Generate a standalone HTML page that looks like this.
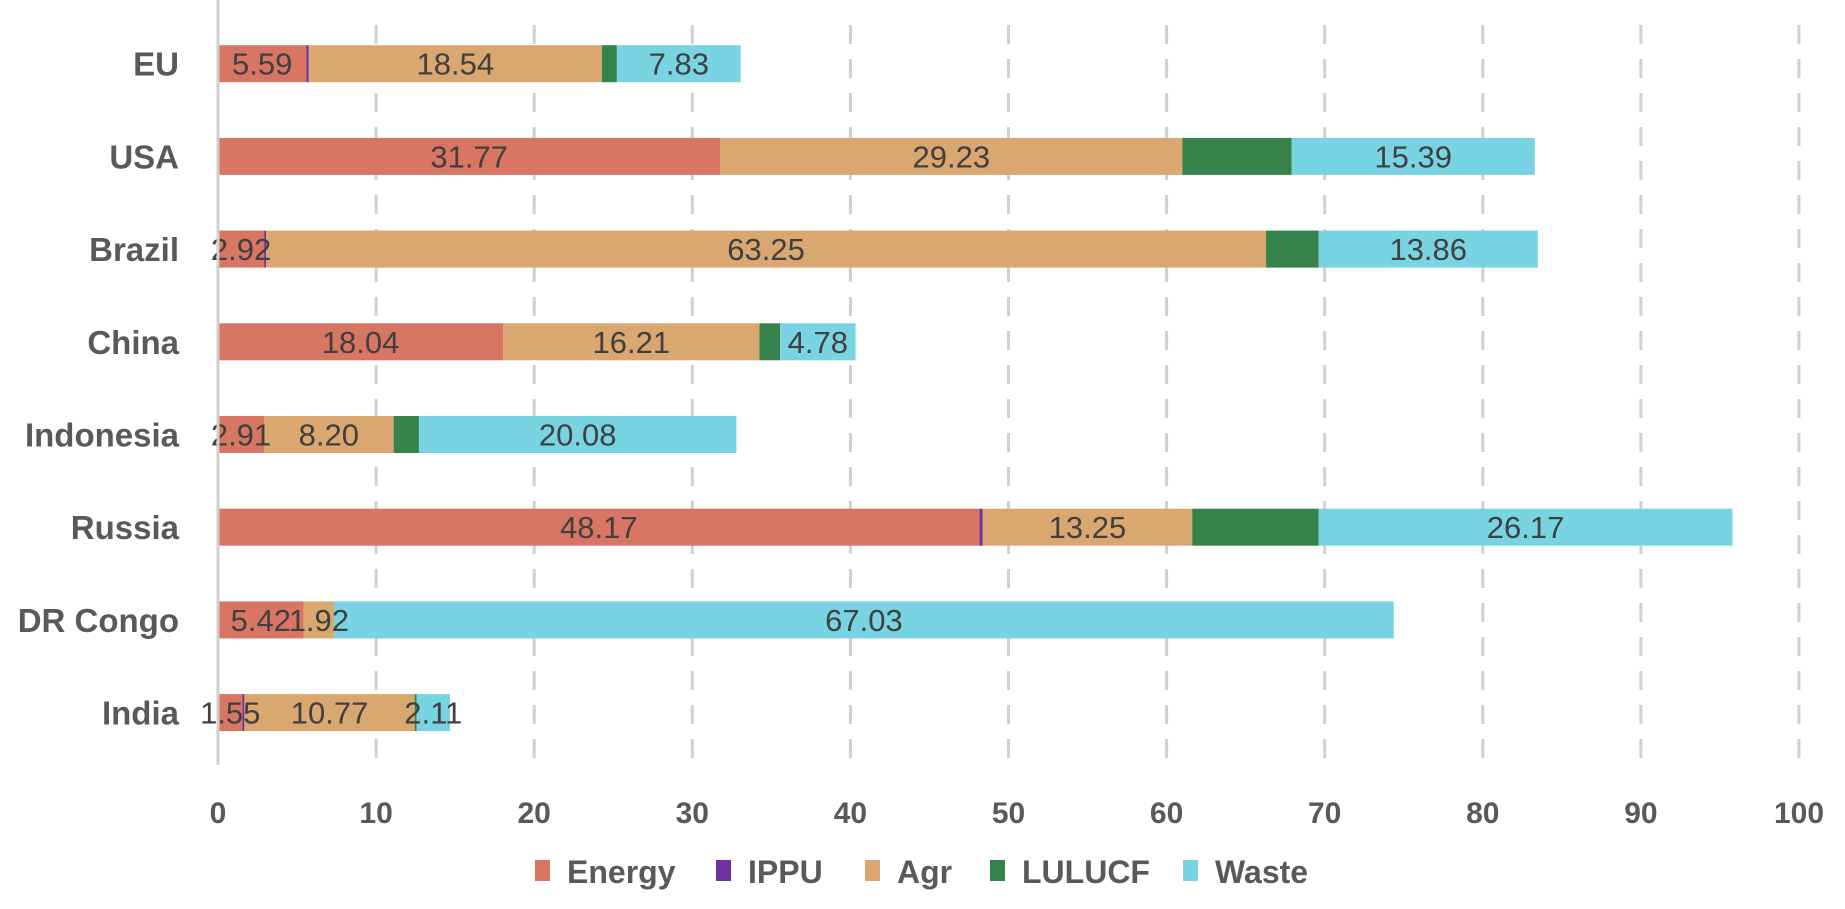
<!DOCTYPE html>
<html><head><meta charset="utf-8"><style>
html,body{margin:0;padding:0;background:#fff;}
svg{display:block;font-family:"Liberation Sans",Calibri,sans-serif;}
</style></head><body>
<svg id="chart" width="1845" height="909" xmlns="http://www.w3.org/2000/svg">
<g id="grid"></g>
<g id="bars"></g>
<g id="labels"></g>
<g id="axes"></g>
<g id="legend"></g>
</svg>
<script>
const categories = ["EU","USA","Brazil","China","Indonesia","Russia","DR Congo","India"];
const seriesNames = ["Energy","IPPU","Agr","LULUCF","Waste"];
const energy = [5.59,31.77,2.92,18.04,2.91,48.17,5.42,1.55];
const ippu   = [0.15,0,0.12,0,0,0.2,0,0.12];
const agr    = [18.54,29.23,63.25,16.21,8.20,13.25,1.92,10.77];
const lulucf = [0.95,6.9,3.33,1.3,1.6,8.0,0,0.12];
const waste  = [7.83,15.39,13.86,4.78,20.08,26.17,67.03,2.11];
const xTicks = [0,10,20,30,40,50,60,70,80,90,100];
const series = [energy,ippu,agr,lulucf,waste];
const colors = ["#d97563","#7030a0","#d9a76f","#35834a","#78d4e3"];
const labeled = [true,false,true,false,true];

const NS="http://www.w3.org/2000/svg";
const X0=218, PX=15.81;
const x = v => X0 + v*PX;
const yc = i => 63.7 + i*92.7;
const BH=37;
function mk(tag, parent, attrs){const e=document.createElementNS(NS,tag);for(const k in attrs)e.setAttribute(k,attrs[k]);parent.appendChild(e);return e;}
const grid=document.getElementById('grid'), bars=document.getElementById('bars'), labels=document.getElementById('labels'), axes=document.getElementById('axes'), legend=document.getElementById('legend');

xTicks.forEach(t=>{
  if(t>0){
    const l=mk('line',grid,{x1:x(t),x2:x(t),y1:25,y2:760,stroke:'#d0d0d0','stroke-width':3,'stroke-dasharray':'19 15'});
    
    
  }
  const tl=mk('text',axes,{x:x(t),y:823,'text-anchor':'middle','font-size':30,fill:'#595959','font-weight':'bold'});
  tl.textContent=t;
  
  
});
const ax=mk('line',axes,{x1:X0,x2:X0,y1:0,y2:765,stroke:'#d0d0d0','stroke-width':3});



categories.forEach((c,i)=>{
  const cl=mk('text',axes,{x:179,y:yc(i)+12,'text-anchor':'end','font-size':33,'font-weight':'bold',fill:'#595959'});
  cl.textContent=c;
  
  
  let acc=0;
  series.forEach((s,j)=>{
    const v=s[i];
    if(v>0){
      const r=mk('rect',bars,{x:x(acc),y:yc(i)-BH/2,width:v*PX,height:BH,fill:colors[j]});
      
      
      if(labeled[j]){
        const t=mk('text',labels,{x:x(acc+v/2),y:yc(i)+11,'text-anchor':'middle','font-size':31,fill:'#404040'});
        t.textContent=v.toFixed(2);
        
        
      }
    }
    acc+=v;
  });
});

const lx=[535,716,865,990,1183];
seriesNames.forEach((n,j)=>{
  const sw=mk('rect',legend,{x:lx[j],y:860,width:15,height:21,fill:colors[j]});
  
  
  const t=mk('text',legend,{x:lx[j]+32,y:883,'font-size':32,'font-weight':'bold',fill:'#595959'});
  t.textContent=n;
  
  
});
</script>
</body></html>
